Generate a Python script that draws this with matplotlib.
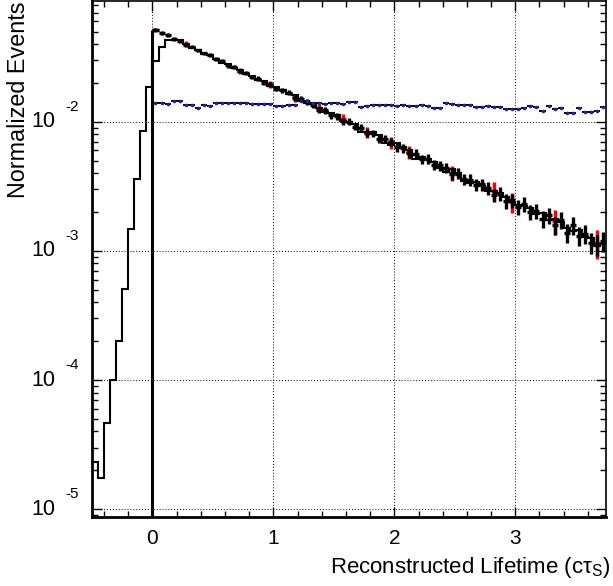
import numpy as np
import matplotlib
matplotlib.use('Agg')
import matplotlib.pyplot as plt
import matplotlib.transforms as mtransforms
from matplotlib.ticker import MultipleLocator, LogLocator, NullFormatter

plt.rcParams['font.family'] = ['Liberation Sans', 'DejaVu Sans']
plt.rcParams['mathtext.fontset'] = 'custom'
plt.rcParams['mathtext.rm'] = 'Liberation Sans'

# binning (units of c*tau_S), 0.05 wide bins
bin_width = 0.05
smear_lo = -0.5
reco_lo = 0.0
t_hi = 3.75

# smeared lifetime histogram, -0.5 .. 3.75
smeared = [
    2.31e-5, 1.74e-5, 4.64e-5, 1.00e-4, 2.00e-4, 5.1e-4, 1.48e-3, 3.6e-3, 8.5e-3, 1.85e-2,
    0.0296, 0.0381, 0.0430, 0.0430, 0.0428, 0.0402, 0.0376, 0.0362, 0.0338, 0.0327,
    0.0309, 0.0288, 0.0280, 0.0262, 0.0252, 0.0235, 0.0228, 0.0212, 0.0206, 0.0190,
    0.0185, 0.0176, 0.0163, 0.0160, 0.0146, 0.0139, 0.0137, 0.0129, 0.0119, 0.0117,
    0.0112, 0.0101, 0.0099, 0.0097, 0.0084, 0.0084, 0.0084, 0.0079, 0.0069, 0.0066,
    0.0068, 0.0064, 0.0060, 0.0052, 0.0053, 0.0052, 0.0049, 0.0044, 0.0041, 0.0043,
    0.0040, 0.00350, 0.00335, 0.00345, 0.00318, 0.00290, 0.00292, 0.00281, 0.00262, 0.00238,
    0.00226, 0.00224, 0.00215, 0.00192, 0.00196, 0.00175, 0.00176, 0.00167, 0.00150, 0.00142,
    0.00145, 0.00128, 0.00126, 0.00110, 0.00114,
]

# reconstructed events per bin, 0 .. 3.75
reco_counts = [
    1335, 1262, 1218, 1138, 1092, 1020, 991, 925, 878, 852,
    790, 761, 709, 690, 641, 622, 578, 560, 519, 506,
    468, 455, 437, 398, 392, 371, 352, 322, 318, 291,
    286, 262, 259, 238, 233, 214, 211, 192, 190, 181,
    164, 162, 149, 147, 133, 134, 121, 119, 114, 102,
    103, 93, 92, 84, 85, 79, 70, 72, 63, 64,
    57, 60, 52, 53, 46, 49, 41, 45, 36, 41,
    34, 35, 30, 29, 31,
]
reco_norm = 25900.0

# second, smaller sample filled in a subset of the bins
red_bins = [0, 5, 14, 19, 23, 27, 31, 35, 39, 42, 49, 56, 59, 66, 73]
red_counts = [665, 520, 322, 252, 200, 166, 136, 107, 90, 75, 52, 38, 31, 22, 15]
red_norm = 12950.0

# flat distribution, same binning
flat_vals = [
    0.0139, 0.0139, 0.0138, 0.0145, 0.0144, 0.0136, 0.0135, 0.0129, 0.0134, 0.0133,
    0.0140, 0.0139, 0.0141, 0.0140, 0.0139, 0.0140, 0.0137, 0.0138, 0.0137, 0.0138,
    0.0132, 0.0133, 0.0136, 0.0136, 0.0145, 0.0146, 0.0140, 0.0141, 0.0138, 0.0139,
    0.0139, 0.0138, 0.0143, 0.0142, 0.0131, 0.0133, 0.0135, 0.0134, 0.0136, 0.0135,
    0.0133, 0.0134, 0.0133, 0.0132, 0.0134, 0.0133, 0.0127, 0.0128, 0.0139, 0.0138,
    0.0135, 0.0135, 0.0134, 0.0131, 0.0131, 0.0132, 0.0130, 0.0131, 0.0126, 0.0126,
    0.0125, 0.0127, 0.0132, 0.0131, 0.0122, 0.0132, 0.0126, 0.0127, 0.0117, 0.0118,
    0.0129, 0.0120, 0.0120, 0.0121, 0.0131,
]

y_lo = 8.7e-6
y_hi = 0.0863
decades = [-5, -4, -3, -2]

smear_edges = smear_lo + bin_width * np.arange(len(smeared) + 1)
reco_edges = reco_lo + bin_width * np.arange(len(reco_counts) + 1)
centers = 0.5 * (reco_edges[:-1] + reco_edges[1:])

reco = np.array(reco_counts) / reco_norm
reco_err = np.sqrt(reco_counts) / reco_norm
red_x = centers[red_bins]
red = np.array(red_counts) / red_norm
red_err = np.sqrt(red_counts) / red_norm

fig = plt.figure(figsize=(6.13, 5.86), dpi=100)
ax = fig.add_axes([92 / 613, 69 / 586, 514 / 613, 516 / 586])
ax.set_yscale('log')

ax.errorbar(red_x, red, xerr=bin_width / 2, yerr=red_err, fmt='none',
            ecolor='red', elinewidth=2.5, capsize=0, zorder=2)
ax.stairs(smeared, smear_edges, color='black', lw=1.5, baseline=None, zorder=3)
ax.errorbar(centers, reco, xerr=bin_width / 2, yerr=reco_err, fmt='none',
            ecolor='black', elinewidth=2.4, capsize=0, zorder=4)
ax.vlines(reco_edges[0], y_lo, reco[0], color='black', lw=2.2, zorder=4)
ax.errorbar(centers, flat_vals, xerr=bin_width / 2, fmt='o', ms=1.6,
            mfc='#2020b0', mec='#2020b0', ecolor='black', elinewidth=1.4,
            capsize=0, zorder=5)

ax.set_xlim(smear_lo, t_hi)
ax.set_ylim(y_lo, y_hi)

ax.grid(True, which='major', linestyle=(0, (1, 2)), color='black', lw=0.7)
ax.set_axisbelow(True)

ax.xaxis.set_major_locator(MultipleLocator(1))
ax.xaxis.set_minor_locator(MultipleLocator(0.2))
ax.yaxis.set_major_locator(LogLocator(base=10, numticks=10))
ax.yaxis.set_minor_locator(LogLocator(base=10, subs=np.arange(2, 10), numticks=20))
ax.yaxis.set_major_formatter(NullFormatter())
ax.yaxis.set_minor_formatter(NullFormatter())
ax.tick_params(which='both', direction='in', top=True, right=True, width=1.0)
ax.tick_params(which='major', length=7.5, labelsize=15, pad=9)
ax.tick_params(which='minor', length=4.3)
for s in ax.spines.values():
    s.set_linewidth(1.2)
ax.spines['left'].set_linewidth(2)
ax.spines['bottom'].set_linewidth(2)

# y tick labels as 10 with raised exponent
trans = ax.get_yaxis_transform()
sup_trans = trans + mtransforms.ScaledTranslation(0, 11 / 100, fig.dpi_scale_trans)
for e in decades:
    ax.text(-0.072, 10.0 ** e, '10', transform=trans, ha='right', va='center', fontsize=15.5)
    ax.text(-0.0525, 10.0 ** e, str(e), transform=sup_trans, ha='left', va='baseline', fontsize=11)

ax.set_xlabel('Reconstructed Lifetime (cτ$_\\mathrm{S}$)', fontsize=16, loc='right')
ax.xaxis.set_label_coords(1.008, -0.074)
ax.set_ylabel('Normalized Events', fontsize=16.8, loc='top')
ax.yaxis.set_label_coords(-0.121, 1.0)

fig.savefig('out.png', dpi=100)
